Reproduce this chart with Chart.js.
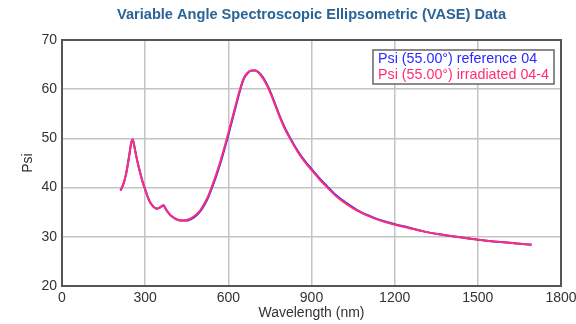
<!DOCTYPE html>
<html>
<head>
<meta charset="utf-8">
<script src="https://cdn.jsdelivr.net/npm/chart.js@4.4.1/dist/chart.umd.min.js"></script>
<style>
  html, body { margin: 0; padding: 0; background: #fff; }
</style>
</head>
<body>
<canvas id="vaseChart" width="576" height="324"></canvas>
<script>
var chartTitle = 'Variable Angle Spectroscopic Ellipsometric (VASE) Data';
var seriesNames = ['Psi (55.00\u00b0) reference 04', 'Psi (55.00\u00b0) irradiated 04-4'];

var wavelength = [211, 222, 232, 242, 250, 255, 260, 268, 276, 285,
    293, 301, 310, 319, 330, 343, 352, 360, 366, 372,
    380, 391, 405, 420, 433, 450, 475, 495, 511, 525,
    539, 555, 571, 585, 600, 613, 627, 640, 655, 670,
    685, 697, 710, 725, 740, 755, 770, 787, 805, 826,
    850, 875, 900, 930, 956, 990, 1028, 1075, 1124, 1165,
    1204, 1250, 1304, 1360, 1424, 1500, 1570, 1630, 1694];

var psiReference = [39.4, 40.8, 43.0, 46.3, 49.1, 49.8, 48.7, 46.4, 44.4, 42.4,
    40.8, 39.5, 38.0, 36.9, 36.1, 35.7, 35.9, 36.2, 36.4, 35.9,
    35.2, 34.4, 33.8, 33.4, 33.3, 33.3, 33.9, 34.9, 36.2, 37.7,
    39.7, 42.1, 44.9, 47.6, 50.7, 53.5, 56.5, 59.3, 62.0, 63.3,
    63.8, 63.8, 63.4, 62.4, 60.9, 59.0, 56.8, 54.3, 52.0, 49.8,
    47.5, 45.5, 43.8, 41.8, 40.3, 38.4, 36.8, 35.1, 33.9, 33.1,
    32.5, 31.9, 31.1, 30.5, 30.0, 29.4, 29.0, 28.7, 28.4];

var psiIrradiated = [39.4, 40.8, 43.0, 46.4, 49.2, 49.8, 48.6, 46.3, 44.3, 42.3,
    40.7, 39.4, 37.9, 36.9, 36.1, 35.7, 35.9, 36.3, 36.4, 35.9,
    35.1, 34.4, 33.8, 33.4, 33.3, 33.4, 34.1, 35.1, 36.5, 38.0,
    40.0, 42.5, 45.3, 48.0, 51.1, 53.9, 56.9, 59.6, 62.2, 63.4,
    63.8, 63.8, 63.3, 62.2, 60.7, 58.8, 56.6, 54.1, 51.8, 49.6,
    47.3, 45.3, 43.6, 41.6, 40.1, 38.2, 36.6, 35.0, 33.8, 33.0,
    32.4, 31.8, 31.1, 30.5, 30.0, 29.4, 29.0, 28.7, 28.4];

var xTicks = [0, 300, 600, 900, 1200, 1500, 1800];
var yTicks = [20, 30, 40, 50, 60, 70];

var blue = '#2a2aff';
var pink = '#ff2d78';
var fontFamily = '"Liberation Sans", Arial, Helvetica, sans-serif';

function toPoints(xs, ys) {
    return xs.map(function (x, i) { return { x: x, y: ys[i] }; });
}

// frame, title and the boxed legend are drawn by hand
var decorations = {
    id: 'decorations',
    afterDraw: function (chart) {
        var ctx = chart.ctx, a = chart.chartArea;
        ctx.save();
        ctx.strokeStyle = '#555';
        ctx.lineWidth = 2;
        ctx.strokeRect(a.left, a.top, a.right - a.left, a.bottom - a.top);

        ctx.fillStyle = '#2a6496';
        ctx.font = 'bold 14.6px ' + fontFamily;
        ctx.textAlign = 'center';
        ctx.textBaseline = 'middle';
        ctx.fillText(chartTitle, (a.left + a.right) / 2, 15);

        ctx.font = '14.3px ' + fontFamily;
        var w = Math.max.apply(null, seriesNames.map(function (s) { return ctx.measureText(s).width; }));
        var right = a.right - 7, top = a.top + 10;
        var left = right - w - 10;
        ctx.fillStyle = '#fff';
        ctx.fillRect(left, top, right - left, 34);
        ctx.strokeStyle = '#666';
        ctx.lineWidth = 1.5;
        ctx.strokeRect(left, top, right - left, 34);
        ctx.textAlign = 'left';
        ctx.fillStyle = blue;
        ctx.fillText(seriesNames[0], left + 5, top + 9);
        ctx.fillStyle = pink;
        ctx.fillText(seriesNames[1], left + 5, top + 25);
        ctx.restore();
    }
};

var vase = new Chart(document.getElementById('vaseChart'), {
    type: 'line',
    data: {
        datasets: [{
            label: seriesNames[0],
            data: toPoints(wavelength, psiReference),
            borderColor: blue,
            borderWidth: 2,
            order: 1
        }, {
            label: seriesNames[1],
            data: toPoints(wavelength, psiIrradiated),
            borderColor: pink,
            borderWidth: 2,
            order: 0
        }]
    },
    options: {
        responsive: false,
        animation: false,
        layout: { padding: { top: 40, right: 15, left: 0, bottom: 0 } },
        elements: {
            point: { radius: 0 },
            line: { cubicInterpolationMode: 'monotone', fill: false }
        },
        plugins: {
            legend: { display: false },
            title: { display: false },
            tooltip: { enabled: false }
        },
        scales: {
            x: {
                type: 'linear',
                min: xTicks[0],
                max: xTicks[xTicks.length - 1],
                afterBuildTicks: function (s) { s.ticks = xTicks.map(function (v) { return { value: v }; }); },
                afterFit: function (s) { s.height = 38; s.paddingLeft = 0; s.paddingRight = 0; },
                ticks: {
                    color: '#333', font: { family: fontFamily, size: 14 }, padding: 4, maxRotation: 0,
                    callback: function (v) { return String(v); }
                },
                grid: { color: '#c4c4c4', lineWidth: 1.5, drawTicks: false },
                border: { display: false },
                title: {
                    display: true,
                    text: 'Wavelength (nm)',
                    color: '#333',
                    font: { family: fontFamily, size: 14 },
                    padding: { top: 0, bottom: 2 }
                }
            },
            y: {
                min: yTicks[0],
                max: yTicks[yTicks.length - 1],
                afterBuildTicks: function (s) { s.ticks = yTicks.map(function (v) { return { value: v }; }); },
                afterFit: function (s) { s.width = 62; s.paddingTop = 0; s.paddingBottom = 0; },
                ticks: {
                    color: '#333', font: { family: fontFamily, size: 14 }, padding: 5,
                    callback: function (v) { return String(v); }
                },
                grid: { color: '#c4c4c4', lineWidth: 1.5, drawTicks: false },
                border: { display: false },
                title: {
                    display: true,
                    text: 'Psi',
                    color: '#333',
                    font: { family: fontFamily, size: 14 },
                    padding: { top: 20, bottom: 0 }
                }
            }
        }
    },
    plugins: [decorations]
});
</script>
</body>
</html>
